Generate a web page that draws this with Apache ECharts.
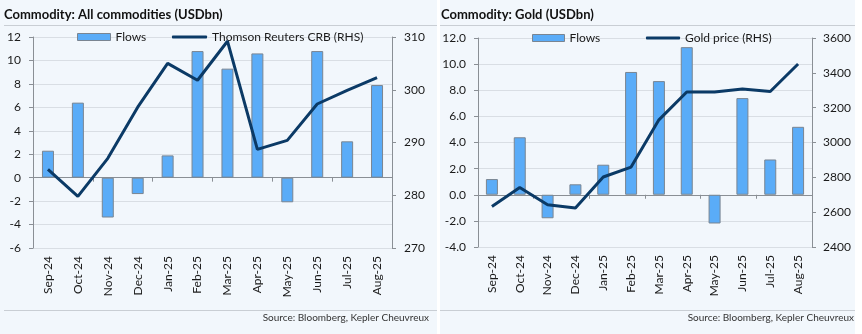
<!DOCTYPE html>
<html>
<head>
<meta charset="utf-8">
<script src="https://cdn.jsdelivr.net/npm/echarts@6/dist/echarts.min.js"></script>
<style>
html,body{margin:0;padding:0;background:#ffffff;}
#c{width:862px;height:334px;}
</style>
</head>
<body>
<div id="c"></div>
<script>
// ---- data ----
const months = ['Sep-24','Oct-24','Nov-24','Dec-24','Jan-25','Feb-25','Mar-25','Apr-25','May-25','Jun-25','Jul-25','Aug-25'];
const allFlows = [2.3, 6.4, -3.4, -1.4, 1.9, 10.8, 9.3, 10.6, -2.1, 10.8, 3.1, 7.9];
const crbIndex = [284.9, 279.8, 287.0, 296.7, 305.0, 301.8, 309.2, 288.7, 290.4, 297.3, 299.9, 302.3];
const goldFlows = [1.2, 4.4, -1.8, 0.8, 2.3, 9.4, 8.7, 11.3, -2.2, 7.4, 2.7, 5.2];
const goldPrice = [2633, 2742, 2643, 2624, 2802, 2859, 3130, 3290, 3290, 3307, 3293, 3451];
const titles = ['Commodity: All commodities (USDbn)', 'Commodity: Gold (USDbn)'];
const sourceText = 'Source: Bloomberg, Kepler Cheuvreux';

const FONT = 'Lato';
const TXT = '#1a1a1a';
const BAR = '#5aacf8';
const BAR_BORDER = '#7a8591';
const LINE = '#0b3a66';
const GRIDC = '#d9dee4';
const AXC = '#8a8f95';
const BG = '#f2f7fc';

const chart = echarts.init(document.getElementById('c'), null, {renderer: 'canvas'});

function catAxes(gridIndex) {
  return [
    {
      type: 'category', gridIndex, data: months, position: 'bottom',
      axisLine: {show: false, onZero: false}, axisTick: {show: false},
      axisLabel: {rotate: 90, margin: 8, fontSize: 12, color: TXT, fontFamily: FONT, interval: 0}
    },
    {
      type: 'category', gridIndex, data: months, position: 'bottom',
      axisLine: {show: true, onZero: true, onZeroAxisIndex: gridIndex * 2, lineStyle: {color: AXC, width: 1}},
      axisTick: {show: true, length: 4, lineStyle: {color: AXC}},
      axisLabel: {show: false}
    }
  ];
}

const legendText = {fontSize: 12, color: TXT, fontFamily: FONT};
const barLegendStyle = {color: BAR, borderColor: BAR_BORDER, borderWidth: 1};

const option = {
  backgroundColor: '#ffffff',
  animation: false,
  graphic: [
    {type: 'rect', shape: {x: 0, y: 0, width: 437, height: 334}, style: {fill: BG}, z: -10},
    {type: 'rect', shape: {x: 440, y: 0, width: 415, height: 334}, style: {fill: BG}, z: -10},
    {type: 'line', shape: {x1: 4, y1: 25.5, x2: 437, y2: 25.5}, style: {stroke: '#c9ced4', lineWidth: 1}},
    {type: 'line', shape: {x1: 440, y1: 25.5, x2: 855, y2: 25.5}, style: {stroke: '#c9ced4', lineWidth: 1}},
    {type: 'line', shape: {x1: 4, y1: 310.5, x2: 437, y2: 310.5}, style: {stroke: '#c9ced4', lineWidth: 1}},
    {type: 'line', shape: {x1: 440, y1: 310.5, x2: 855, y2: 310.5}, style: {stroke: '#c9ced4', lineWidth: 1}},
    {type: 'text', x: 429, y: 318, style: {text: sourceText, align: 'right', verticalAlign: 'middle', fontSize: 10, fontFamily: FONT, fill: '#333'}},
    {type: 'text', x: 854, y: 318, style: {text: sourceText, align: 'right', verticalAlign: 'middle', fontSize: 10, fontFamily: FONT, fill: '#333'}}
  ],
  title: [
    {text: titles[0], left: 4, top: 8, padding: 0, textStyle: {fontSize: 13, fontWeight: 'bold', color: '#111', fontFamily: FONT}},
    {text: titles[1], left: 441, top: 8, padding: 0, textStyle: {fontSize: 13, fontWeight: 'bold', color: '#111', fontFamily: FONT}}
  ],
  legend: [
    {data: [{name: 'Flows', icon: 'rect', itemStyle: barLegendStyle}], left: 77, top: 31, padding: 0, itemWidth: 33, itemHeight: 7, textStyle: legendText},
    {data: [{name: 'Thomson Reuters CRB (RHS)', icon: 'roundRect', itemStyle: {color: LINE, borderWidth: 0}}], left: 172, top: 31, padding: 0, itemWidth: 35, itemHeight: 3, textStyle: legendText},
    {data: [{name: 'Flows ', icon: 'rect', itemStyle: barLegendStyle}], left: 532, top: 32, padding: 0, itemWidth: 32, itemHeight: 7, textStyle: legendText},
    {data: [{name: 'Gold price (RHS)', icon: 'roundRect', itemStyle: {color: LINE, borderWidth: 0}}], left: 646, top: 32, padding: 0, itemWidth: 34, itemHeight: 3, textStyle: legendText}
  ],
  grid: [
    {left: 33, right: 470, top: 37, bottom: 86, containLabel: false},
    {left: 478, right: 50, top: 38, bottom: 87, containLabel: false}
  ],
  xAxis: [...catAxes(0), ...catAxes(1)],
  yAxis: [
    {
      type: 'value', gridIndex: 0, min: -6, max: 12, interval: 2, position: 'left',
      axisLine: {show: true, lineStyle: {color: AXC}}, axisTick: {show: true, length: 4, lineStyle: {color: AXC}},
      axisLabel: {margin: 12, fontSize: 12, color: TXT, fontFamily: FONT},
      splitLine: {show: true, lineStyle: {color: GRIDC}}
    },
    {
      type: 'value', gridIndex: 0, min: 270, max: 310, interval: 10, position: 'right',
      axisLine: {show: true, lineStyle: {color: AXC}}, axisTick: {show: true, length: 4, lineStyle: {color: AXC}},
      axisLabel: {margin: 12, fontSize: 12, color: TXT, fontFamily: FONT, formatter: v => String(v)},
      splitLine: {show: false}
    },
    {
      type: 'value', gridIndex: 1, min: -4, max: 12, interval: 2, position: 'left',
      axisLine: {show: true, lineStyle: {color: AXC}}, axisTick: {show: true, length: 4, lineStyle: {color: AXC}},
      axisLabel: {margin: 12, fontSize: 12, color: TXT, fontFamily: FONT, formatter: v => v.toFixed(1)},
      splitLine: {show: true, lineStyle: {color: GRIDC}}
    },
    {
      type: 'value', gridIndex: 1, min: 2400, max: 3600, interval: 200, position: 'right',
      axisLine: {show: true, lineStyle: {color: AXC}}, axisTick: {show: true, length: 4, lineStyle: {color: AXC}},
      axisLabel: {margin: 11, fontSize: 12, color: TXT, fontFamily: FONT, formatter: v => String(v)},
      splitLine: {show: false}
    }
  ],
  series: [
    {
      name: 'Flows', type: 'bar', xAxisIndex: 0, yAxisIndex: 0, data: allFlows, barWidth: 12,
      itemStyle: {color: BAR, borderColor: BAR_BORDER, borderWidth: 1}
    },
    {
      name: 'Thomson Reuters CRB (RHS)', type: 'line', xAxisIndex: 0, yAxisIndex: 1, data: crbIndex,
      symbol: 'none', lineStyle: {color: LINE, width: 3}, itemStyle: {color: LINE}, z: 5
    },
    {
      name: 'Flows ', type: 'bar', xAxisIndex: 2, yAxisIndex: 2, data: goldFlows, barWidth: 12,
      itemStyle: {color: BAR, borderColor: BAR_BORDER, borderWidth: 1}
    },
    {
      name: 'Gold price (RHS)', type: 'line', xAxisIndex: 2, yAxisIndex: 3, data: goldPrice,
      symbol: 'none', lineStyle: {color: LINE, width: 3}, itemStyle: {color: LINE}, z: 5
    }
  ]
};
chart.setOption(option);
</script>
</body>
</html>
